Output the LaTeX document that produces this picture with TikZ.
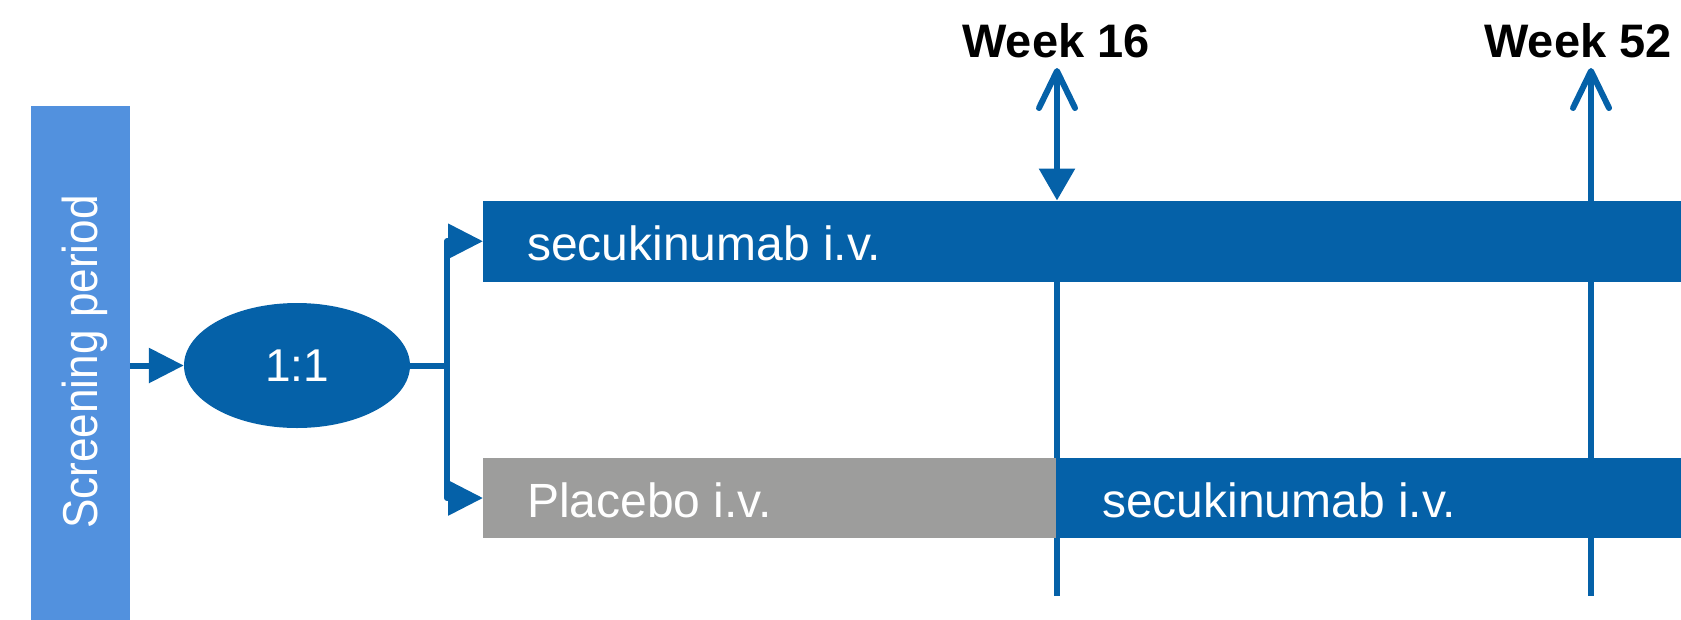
\documentclass[tikz,border=0pt]{standalone}
\usepackage{fontspec}
\setmainfont{Liberation Sans}
\newfontfamily\scrfont[FakeStretch=0.9]{Liberation Sans}
\usetikzlibrary{arrows.meta,shapes.geometric,calc}
\definecolor{dblue}{RGB}{5,97,168}
\definecolor{lblue}{RGB}{82,145,222}
\definecolor{pgrey}{RGB}{157,157,156}
\begin{document}
\begin{tikzpicture}[x=1pt,y=-1pt,
  bar/.style={draw=none, inner sep=0pt, outer sep=0pt, anchor=north west},
  bartext/.style={text=white, font=\fontsize{48}{58}\selectfont, anchor=base west, inner sep=0pt},
  weektext/.style={text=black, font=\bfseries\fontsize{47}{56}\selectfont, anchor=base, inner sep=0pt},
  conn/.style={draw=dblue, line width=6pt, line join=round},
  ftip/.tip={Triangle[length=35pt,width=34pt]},
  dtip/.tip={Triangle[length=32pt,width=35pt]},
  vtip/.tip={Straight Barb[length=37pt,width=36pt,round]}]
\useasboundingbox (0,0) rectangle (1681,619);
% timeline coordinates
\coordinate (w16t) at (1057,68);
\coordinate (w16m) at (1057,200.5);
\coordinate (w16b) at (1057,596);
\coordinate (w52t) at (1591,68);
\coordinate (w52b) at (1591,596);
\coordinate (br) at (447,365.5);
% week lines
\draw[conn, {vtip}-{dtip}] (w16t) -- (w16m);
\draw[conn] (w16m) -- (w16b);
\draw[conn, {vtip}-] (w52t) -- (w52b);
% bars
\node[bar, fill=lblue, minimum width=99pt, minimum height=514pt] (scr) at (31,105.7) {};
\node[bar, fill=dblue, minimum width=1198pt, minimum height=81.5pt] (sec1) at (483,200.5) {};
\node[bar, fill=pgrey, minimum width=573pt, minimum height=80pt] (pla) at (483,458) {};
\node[bar, fill=dblue, minimum width=625pt, minimum height=80pt] (sec2) at (1056,458) {};
% texts
\node[rotate=90, anchor=base, text=white, inner sep=0pt, font=\scrfont\fontsize{49}{58}\selectfont] (scrt) at (97,362) {Screening period};
\node[bartext] (t1) at (527,260) {secukinumab i.v.};
\node[bartext] (t2) at (527,517) {Placebo i.v.};
\node[bartext] (t3) at (1102,517) {secukinumab i.v.};
\node[weektext] (wk16) at (1056,57) {Week 16};
\node[weektext] (wk52) at (1578,57) {Week 52};
% randomisation
\node[ellipse, fill=dblue, minimum width=226pt, minimum height=125pt, inner sep=0pt, text=white, font=\fontsize{46}{55}\selectfont] (ell) at (297,365.5) {1:1};
\draw[conn, -{ftip}] (scr.east |- ell.west) -- (ell.west);
\draw[conn] (ell.east) -- (br);
\draw[conn, {ftip}-{ftip}] (sec1.west) -| (br) |- (pla.west);
\end{tikzpicture}
\end{document}
